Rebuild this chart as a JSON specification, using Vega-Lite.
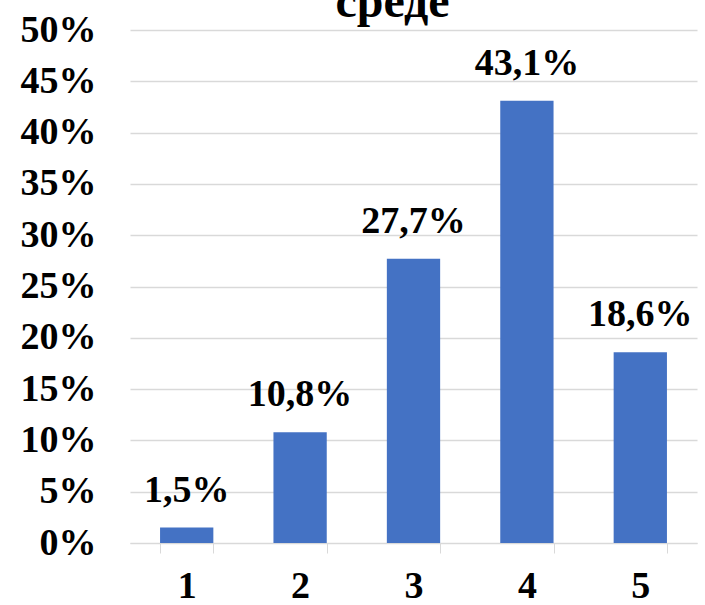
{
  "$schema": "https://vega.github.io/schema/vega-lite/v6.json",
  "autosize": "none",
  "width": 567,
  "height": 513,
  "padding": {"left": 130, "top": 30, "right": 8, "bottom": 62},
  "background": "white",
  "title": {
    "text": "среде",
    "font": "Liberation Serif",
    "fontSize": 48,
    "fontWeight": "bold",
    "color": "#000000",
    "anchor": "middle",
    "baseline": "alphabetic",
    "offset": 0,
    "dy": 54,
    "dx": -21
  },
  "data": {
    "values": [
      {"score": "1", "share": 0.015},
      {"score": "2", "share": 0.108},
      {"score": "3", "share": 0.277},
      {"score": "4", "share": 0.431},
      {"score": "5", "share": 0.186}
    ]
  },
  "encoding": {
    "x": {
      "field": "score",
      "type": "ordinal",
      "title": null,
      "scale": {"paddingInner": 0.53, "paddingOuter": 0.265},
      "axis": {
        "labelAngle": 0,
        "labelFont": "Liberation Serif",
        "labelFontSize": 38,
        "labelFontWeight": "bold",
        "labelColor": "#000000",
        "labelPadding": 14,
        "tickBand": "extent",
        "tickSize": 10,
        "tickColor": "#d9d9d9",
        "domainColor": "#d9d9d9",
        "grid": false
      }
    },
    "y": {
      "field": "share",
      "type": "quantitative",
      "title": null,
      "scale": {"domain": [0, 0.5]},
      "axis": {
        "format": ".0%",
        "values": [0, 0.05, 0.1, 0.15, 0.2, 0.25, 0.3, 0.35, 0.4, 0.45, 0.5],
        "labelFont": "Liberation Serif",
        "labelFontSize": 38,
        "labelFontWeight": "bold",
        "labelColor": "#000000",
        "labelPadding": 34,
        "domain": false,
        "ticks": false,
        "gridColor": "#d9d9d9",
        "gridWidth": 1.5
      }
    }
  },
  "layer": [
    {"mark": {"type": "bar", "color": "#4472c4"}},
    {
      "mark": {
        "type": "text",
        "font": "Liberation Serif",
        "fontSize": 38,
        "fontWeight": "bold",
        "color": "#000000",
        "baseline": "alphabetic",
        "dy": -26
      },
      "encoding": {"text": {"field": "share", "type": "quantitative", "format": ".1%"}}
    }
  ],
  "config": {
    "view": {"stroke": null},
    "locale": {
      "number": {"decimal": ",", "thousands": " ", "grouping": [3], "currency": ["", " ₽"]}
    }
  }
}
